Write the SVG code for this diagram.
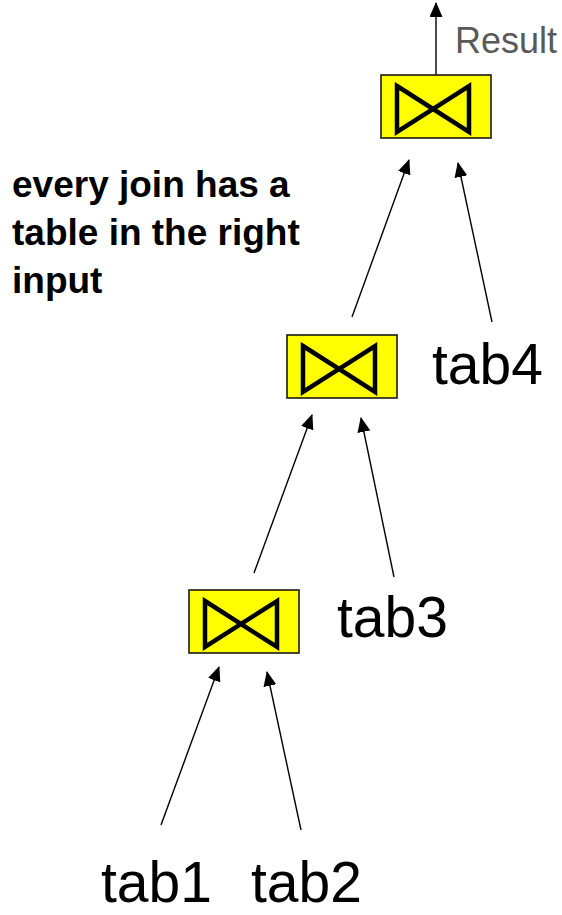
<svg xmlns="http://www.w3.org/2000/svg" width="562" height="915" viewBox="0 0 562 915">
<style>
.box{fill:#ffff00;stroke:#1a1a1a;stroke-width:1.6}
.tie{fill:none;stroke:#000;stroke-width:4.5;stroke-linejoin:miter}
.edge{stroke:#000;stroke-width:1.4;fill:none;marker-end:url(#ah)}
.tab{font-family:"Liberation Sans",Arial,sans-serif;font-size:57px;fill:#000}
.note{font-family:"Liberation Sans",Arial,sans-serif;font-size:37px;font-weight:bold;fill:#000}
.res{font-family:"Liberation Sans",Arial,sans-serif;font-size:36px;fill:#595959}
</style>
<defs>
<marker id="ah" markerUnits="userSpaceOnUse" markerWidth="15" markerHeight="13" viewBox="0 0 15 13" refX="14" refY="6.5" orient="auto">
<path d="M0,0 L15,6.5 L0,13 Z" fill="#000"/>
</marker>
<g id="join">
<rect class="box" x="0" y="0" width="110" height="63"/>
<path class="tie" d="M16,11 L88,57 L88,11 L16,57 Z"/>
</g>
</defs>
<g id="connectors">
<line class="edge" x1="436" y1="75" x2="436" y2="3"/>
<line class="edge" x1="352" y1="317" x2="409" y2="160"/>
<line class="edge" x1="492" y1="322" x2="458" y2="163"/>
<line class="edge" x1="254" y1="573" x2="312" y2="415"/>
<line class="edge" x1="394" y1="577" x2="361" y2="418"/>
<line class="edge" x1="161" y1="825" x2="219" y2="667"/>
<line class="edge" x1="301" y1="830" x2="267" y2="672"/>
</g>
<g id="join1"><use href="#join" x="381" y="75"/></g>
<g id="join2"><use href="#join" x="287" y="335"/></g>
<g id="join3"><use href="#join" x="189" y="590"/></g>
<g id="result"><text class="res" x="455" y="53">Result</text></g>
<g id="tab4"><text class="tab" x="432" y="384">tab4</text></g>
<g id="tab3"><text class="tab" x="337" y="637">tab3</text></g>
<g id="tab1"><text class="tab" x="101" y="902">tab1</text></g>
<g id="tab2"><text class="tab" x="251" y="902">tab2</text></g>
<g id="note">
<text class="note" x="12" y="197">every join has a</text>
<text class="note" x="12" y="245">table in the right</text>
<text class="note" x="12" y="293">input</text>
</g>
</svg>
